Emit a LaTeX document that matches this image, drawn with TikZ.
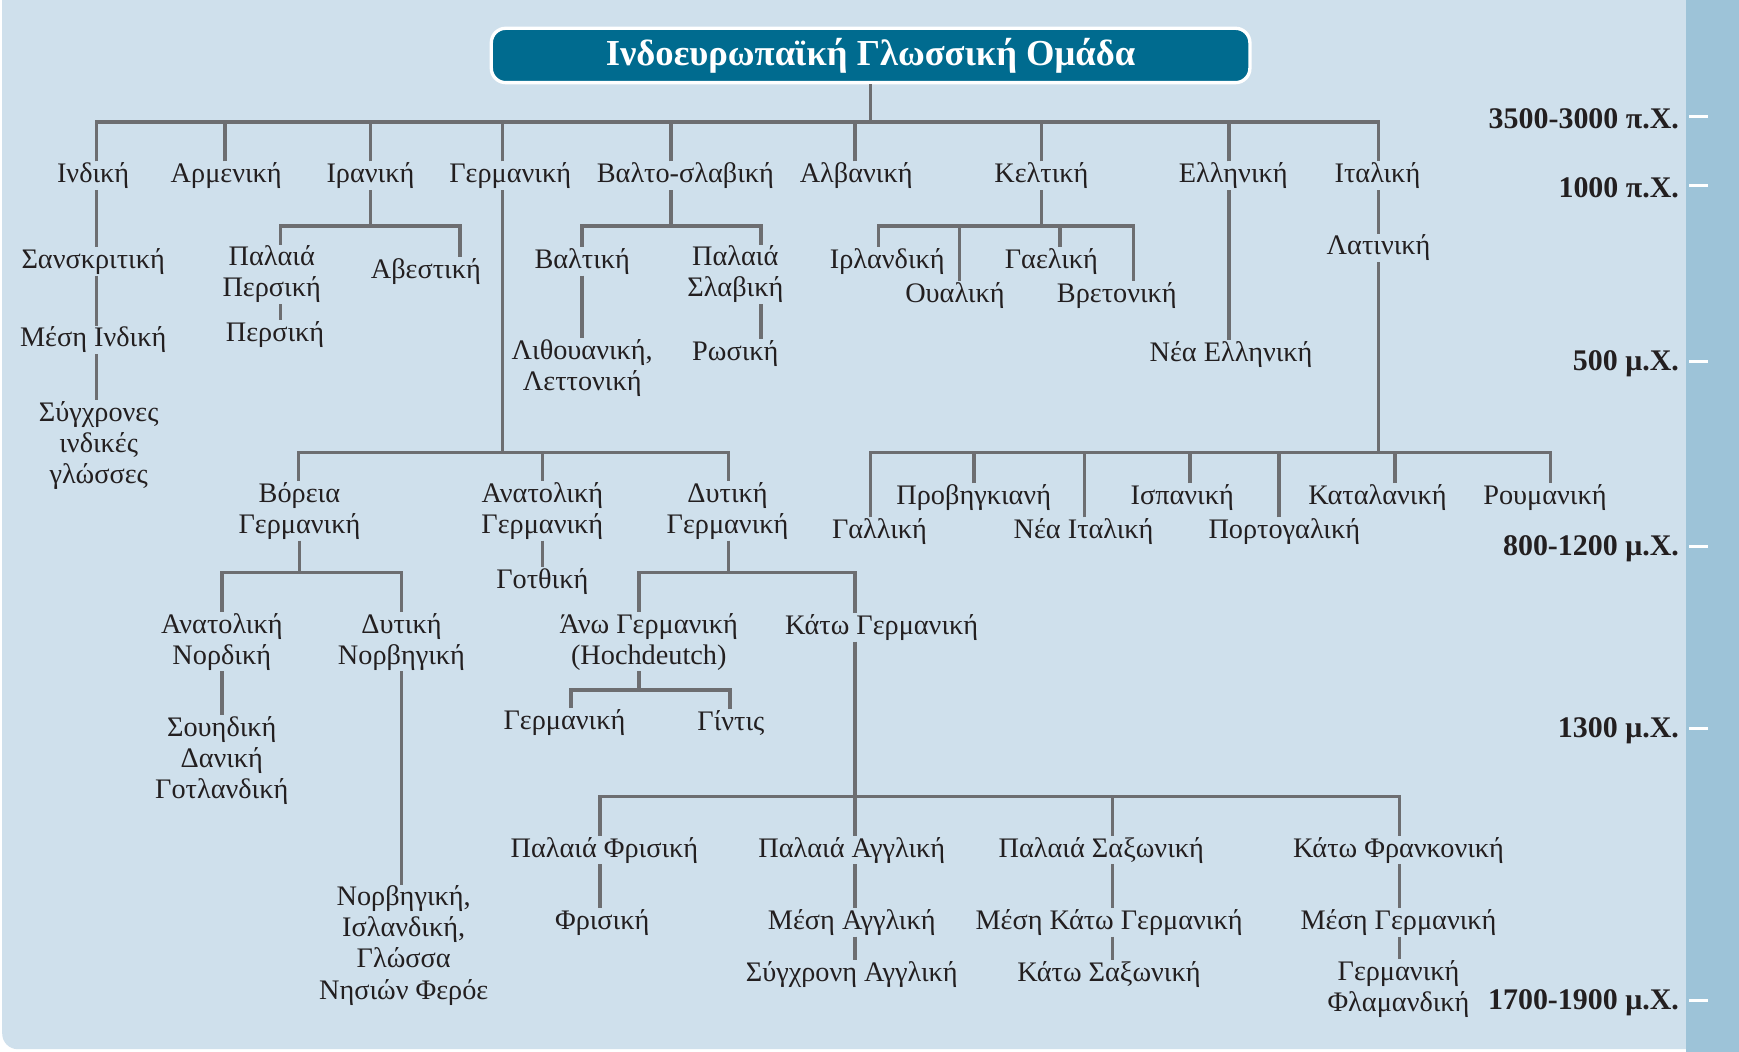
\documentclass[tikz,border=0pt]{standalone}
\usepackage{fontspec}
\setmainfont{Liberation Serif}
\definecolor{bgblue}{RGB}{207,224,236}
\definecolor{stripblue}{RGB}{157,195,216}
\definecolor{titleblue}{RGB}{0,107,143}
\definecolor{linegray}{RGB}{109,110,113}
\definecolor{txt}{RGB}{35,31,32}
\tikzset{
  lbl/.style={font=\fontsize{25.5}{28}\selectfont, align=center, inner sep=1pt, text=txt, yshift=-1.5pt},
  conn/.style={draw=linegray, line width=3.2pt},
  era/.style={font=\bfseries\fontsize{27}{30}\selectfont, anchor=east, inner sep=0pt, text=txt},
  tick/.style={draw=white, line width=2.5pt},
  titlebox/.style={draw=white, line width=3pt, fill=titleblue, rounded corners=13pt,
    minimum width=684pt, minimum height=49pt, text=white, inner sep=0pt,
    font=\bfseries\fontsize{33}{38}\selectfont}
}
\begin{document}
\begin{tikzpicture}[x=1pt,y=-1pt]
\useasboundingbox (0,0) rectangle (1568,948);
\fill[white] (0,0) rectangle (1568,948);
\begin{scope}
\clip (0,0) rectangle (1568,948);
\fill[bgblue, rounded corners=14pt] (2,-30) rectangle (1600,946);
\fill[stripblue] (1520,-5) rectangle (1600,960);
\end{scope}

% timeline
\foreach \yy/\tt/\nm in {105/{3500-3000 π.Χ.}/e1, 167/{1000 π.Χ.}/e2, 326/{500 μ.Χ.}/e3, 493/{800-1200 μ.Χ.}/e4, 657/{1300 μ.Χ.}/e5, 902/{1700-1900 μ.Χ.}/e6}{
  \node[era] (\nm) at (1514,\yy+2) {\tt};
  \coordinate (\nm t) at (1523,\yy);
  \draw[tick] (\nm t) -- ++(17,0);
}

% title
\node[titlebox] (title) at (785,50) {Ινδοευρωπαϊκή Γλωσσική Ομάδα};

% level 1
\node[lbl] (ind) at (84,157) {Ινδική};
\node[lbl] (arm) at (204,157) {Αρμενική};
\node[lbl] (ira) at (334,157) {Ιρανική};
\node[lbl] (ger) at (460,157) {Γερμανική};
\node[lbl] (bsl) at (618,157) {Βαλτο-σλαβική};
\node[lbl] (alb) at (772,157) {Αλβανική};
\node[lbl] (kel) at (939,157) {Κελτική};
\node[lbl] (ell) at (1112,157) {Ελληνική};
\node[lbl] (ita) at (1242,157) {Ιταλική};

% Indic
\node[lbl] (sans) at (84,234) {Σανσκριτική};
\node[lbl] (mesi) at (84,305) {Μέση Ινδική};
\node[lbl] (syg) at (89,400) {Σύγχρονες\\ινδικές\\γλώσσες};
% Iranian
\node[lbl] (palp) at (245,246) {Παλαιά\\Περσική};
\node[lbl] (abe) at (384,243) {Αβεστική};
\node[lbl] (pers) at (248,300) {Περσική};
% Balto-Slavic
\node[lbl] (bal) at (525,234) {Βαλτική};
\node[lbl] (psl) at (663,246) {Παλαιά\\Σλαβική};
\node[lbl] (lit) at (525,330) {Λιθουανική,\\Λεττονική};
\node[lbl] (ros) at (663,317) {Ρωσική};
% Celtic
\node[lbl] (irl) at (800,234) {Ιρλανδική};
\node[lbl] (oua) at (861,265) {Ουαλική};
\node[lbl] (gae) at (948,234) {Γαελική};
\node[lbl] (vre) at (1007,265) {Βρετονική};
% Greek
\node[lbl] (nell) at (1110,318) {Νέα Ελληνική};
% Italic
\node[lbl] (lat) at (1243,222) {Λατινική};
\node[lbl] (gal) at (793,478) {Γαλλική};
\node[lbl] (prov) at (878,447) {Προβηγκιανή};
\node[lbl] (nita) at (977,478) {Νέα Ιταλική};
\node[lbl] (isp) at (1066,447) {Ισπανική};
\node[lbl] (port) at (1158,478) {Πορτογαλική};
\node[lbl] (kat) at (1242,447) {Καταλανική};
\node[lbl] (rou) at (1393,447) {Ρουμανική};
% Germanic
\node[lbl] (vor) at (270,459) {Βόρεια\\Γερμανική};
\node[lbl] (ana) at (489,459) {Ανατολική\\Γερμανική};
\node[lbl] (dyt) at (656,459) {Δυτική\\Γερμανική};
\node[lbl] (got) at (489,523) {Γοτθική};
\node[lbl] (anor) at (200,577) {Ανατολική\\Νορδική};
\node[lbl] (dnor) at (362,577) {Δυτική\\Νορβηγική};
\node[lbl] (sou) at (200,684) {Σουηδική\\Δανική\\Γοτλανδική};
\node[lbl] (norv) at (364,851) {Νορβηγική,\\Ισλανδική,\\Γλώσσα\\Νησιών Φερόε};
\node[lbl] (ano) at (585,577) {Άνω Γερμανική\\(Hochdeutch)};
\node[lbl] (kato) at (795,564) {Κάτω Γερμανική};
\node[lbl] (germ) at (509,650) {Γερμανική};
\node[lbl] (gid) at (659,650) {Γίντις};
\node[lbl] (pfri) at (545,765) {Παλαιά Φρισική};
\node[lbl] (pang) at (768,765) {Παλαιά Αγγλική};
\node[lbl] (psax) at (993,765) {Παλαιά Σαξωνική};
\node[lbl] (pfra) at (1261,765) {Κάτω Φρανκονική};
\node[lbl] (fri) at (543,830) {Φρισική};
\node[lbl] (mang) at (768,830) {Μέση Αγγλική};
\node[lbl] (sang) at (768,877) {Σύγχρονη Αγγλική};
\node[lbl] (mkg) at (1000,830) {Μέση Κάτω Γερμανική};
\node[lbl] (ksax) at (1000,877) {Κάτω Σαξωνική};
\node[lbl] (mger) at (1261,830) {Μέση Γερμανική};
\node[lbl] (gfla) at (1261,890) {Γερμανική\\Φλαμανδική};

% ---- connectors ----
\coordinate (tb) at (785,110);
\draw[conn] (title.south) -- (tb);
\draw[conn] (ind.north -| 87,0) |- (tb) -| (ita.north -| 1243,0);
\draw[conn] (arm.north -| 203,0) -- (203,0 |- tb);
\draw[conn] (ira.north) -- (ira.north |- tb);
\draw[conn] (ger.north -| 453,0) -- (453,0 |- tb);
\draw[conn] (bsl.north -| 605,0) -- (605,0 |- tb);
\draw[conn] (alb.north -| 771,0) -- (771,0 |- tb);
\draw[conn] (kel.north) -- (kel.north |- tb);
\draw[conn] (ell.north -| 1108,0) -- (1108,0 |- tb);

% Indic chain
\draw[conn] (ind.south -| 87,0) -- (sans.north -| 87,0);
\draw[conn] (sans.south -| 87,0) -- (mesi.north -| 87,0);
\draw[conn] (mesi.south -| 87,0) -- (syg.north -| 87,0);

% Iranian
\coordinate (irb) at (334,204);
\draw[conn] (ira.south) -- (irb);
\draw[conn] (palp.north -| 253,0) |- (irb) -| (abe.north -| 415,0);
\draw[conn] (palp.south -| 253,0) -- (pers.north -| 253,0);

% Balto-Slavic
\coordinate (bsb) at (605,204);
\draw[conn] (bsl.south -| 605,0) -- (bsb);
\draw[conn] (bal.north -| 525,0) |- (bsb) -| (psl.north -| 686,0);
\draw[conn] (bal.south -| 525,0) -- (lit.north -| 525,0);
\draw[conn] (psl.south -| 686,0) -- (ros.north -| 686,0);

% Celtic
\coordinate (kb) at (939,204);
\draw[conn] (kel.south) -- (kb);
\draw[conn] (irl.north -| 792,0) |- (kb) -| (vre.north -| 1022,0);
\draw[conn] (oua.north -| 865,0) -- (865,0 |- kb);
\draw[conn] (gae.north -| 956,0) -- (956,0 |- kb);

% Greek
\draw[conn] (ell.south -| 1108,0) -- (nell.north -| 1108,0);

% Italic
\draw[conn] (ita.south -| 1243,0) -- (lat.north -| 1243,0);
\coordinate (lb) at (1243,408);
\draw[conn] (lat.south -| 1243,0) -- (lb);
\draw[conn] (gal.north -| 785,0) |- (lb) -| (rou.north -| 1398,0);
\draw[conn] (prov.north) -- (prov.north |- lb);
\draw[conn] (nita.north -| 978,0) -- (978,0 |- lb);
\draw[conn] (isp.north -| 1073,0) -- (1073,0 |- lb);
\draw[conn] (port.north -| 1153,0) -- (1153,0 |- lb);
\draw[conn] (kat.north -| 1258,0) -- (1258,0 |- lb);

% Germanic
\coordinate (gb) at (453,408);
\draw[conn] (ger.south -| 453,0) -- (gb);
\draw[conn] (vor.north -| 269,0) |- (gb) -| (dyt.north -| 657,0);
\draw[conn] (ana.north) -- (ana.north |- gb);
\draw[conn] (ana.south) -- (got.north);
% North Germanic
\coordinate (nb) at (270,516);
\draw[conn] (vor.south) -- (nb);
\draw[conn] (anor.north) |- (nb) -| (dnor.north);
\draw[conn] (anor.south) -- (sou.north);
\draw[conn] (dnor.south) -- (norv.north -| dnor.south);
% West Germanic
\coordinate (wb) at (657,516);
\draw[conn] (dyt.south -| 657,0) -- (wb);
\draw[conn] (ano.north -| 576,0) |- (wb) -| (kato.north -| 771,0);
\coordinate (ab) at (576,622);
\draw[conn] (ano.south -| 576,0) -- (ab);
\draw[conn] (germ.north -| 515,0) |- (ab) -| (gid.north -| 658,0);
\coordinate (lgb) at (771,718);
\draw[conn] (kato.south -| 771,0) -- (lgb);
\draw[conn] (pfri.north -| 541,0) |- (lgb) -| (pfra.north -| 1262,0);
\draw[conn] (pang.north -| 771,0) -- (lgb);
\draw[conn] (psax.north -| 1003,0) -- (1003,0 |- lgb);
\draw[conn] (pfri.south -| 541,0) -- (fri.north -| 541,0);
\draw[conn] (pang.south -| 771,0) -- (mang.north -| 771,0);
\draw[conn] (mang.south -| 771,0) -- (sang.north -| 771,0);
\draw[conn] (psax.south -| 1003,0) -- (mkg.north -| 1003,0);
\draw[conn] (mkg.south -| 1003,0) -- (ksax.north -| 1003,0);
\draw[conn] (pfra.south -| 1262,0) -- (mger.north -| 1262,0);
\draw[conn] (mger.south -| 1262,0) -- (gfla.north -| 1262,0);
\end{tikzpicture}
\end{document}
